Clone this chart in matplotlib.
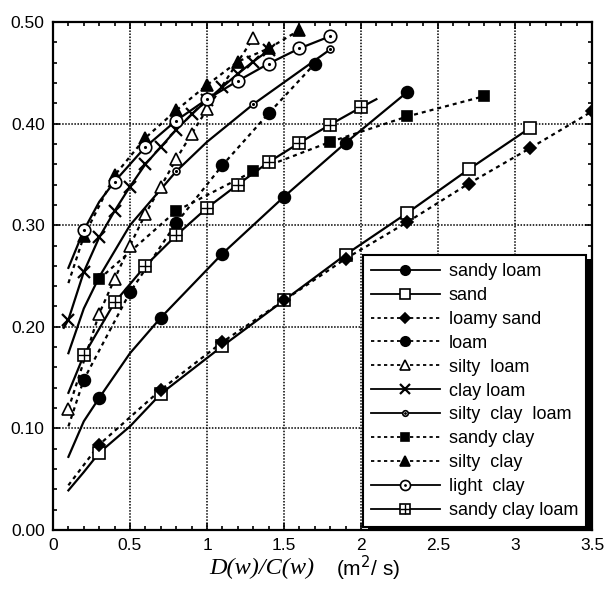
import numpy as np
import matplotlib
matplotlib.use("Agg")
import matplotlib.pyplot as plt
from matplotlib.lines import Line2D
from matplotlib.legend_handler import HandlerTuple
from matplotlib.patches import Rectangle
from matplotlib.ticker import MultipleLocator, FuncFormatter

plt.rcParams['font.family'] = ['Liberation Sans', 'DejaVu Sans']

# ---- data: line vertices, and x of the marked points ----
sandy_loam_x = [0.1, 0.2, 0.3, 0.5, 0.7, 1.1, 1.5, 1.9, 2.3]
sandy_loam_y = [0.072, 0.107, 0.130, 0.174, 0.209, 0.272, 0.328, 0.381, 0.431]
sandy_loam_mx = [0.3, 0.7, 1.1, 1.5, 1.9, 2.3]

sand_x = [0.1, 0.2, 0.3, 0.5, 0.7, 1.1, 1.5, 1.9, 2.3, 2.7, 3.1]
sand_y = [0.039, 0.057, 0.076, 0.102, 0.134, 0.181, 0.226, 0.271, 0.312, 0.355, 0.396]
sand_mx = [0.3, 0.7, 1.1, 1.5, 1.9, 2.3, 2.7, 3.1]

loamy_sand_x = [0.1, 0.3, 0.7, 1.1, 1.5, 1.9, 2.3, 2.7, 3.1, 3.5]
loamy_sand_y = [0.044, 0.084, 0.138, 0.185, 0.226, 0.267, 0.303, 0.341, 0.376, 0.412]
loamy_sand_mx = [0.3, 0.7, 1.1, 1.5, 1.9, 2.3, 2.7, 3.1, 3.5]

loam_x = [0.1, 0.2, 0.5, 0.8, 1.1, 1.4, 1.7]
loam_y = [0.102, 0.148, 0.234, 0.302, 0.359, 0.410, 0.459]
loam_mx = [0.2, 0.5, 0.8, 1.1, 1.4, 1.7]

silty_loam_x = [0.1, 0.3, 0.4, 0.5, 0.6, 0.7, 0.8, 0.9, 1.0, 1.3]
silty_loam_y = [0.119, 0.213, 0.247, 0.280, 0.311, 0.338, 0.365, 0.390, 0.414, 0.484]
silty_loam_mx = [0.1, 0.3, 0.4, 0.5, 0.6, 0.7, 0.8, 0.9, 1.0, 1.3]

clay_loam_x = [0.07, 0.1, 0.2, 0.3, 0.4, 0.5, 0.6, 0.7, 0.8, 0.9, 1.0, 1.1, 1.2, 1.3, 1.4]
clay_loam_y = [0.199, 0.207, 0.254, 0.288, 0.314, 0.338, 0.360, 0.377, 0.394, 0.409,
               0.423, 0.436, 0.449, 0.461, 0.472]
clay_loam_mx = [0.1, 0.2, 0.3, 0.4, 0.5, 0.6, 0.7, 0.8, 0.9, 1.0, 1.1, 1.2, 1.3, 1.4]

silty_clay_loam_x = [0.1, 0.2, 0.3, 0.5, 0.8, 1.0, 1.3, 1.8]
silty_clay_loam_y = [0.174, 0.218, 0.249, 0.300, 0.353, 0.382, 0.419, 0.473]
silty_clay_loam_mx = [0.3, 0.8, 1.3, 1.8]

sandy_clay_x = [0.3, 0.8, 1.3, 1.8, 2.3, 2.8]
sandy_clay_y = [0.247, 0.314, 0.353, 0.382, 0.407, 0.427]
sandy_clay_mx = [0.3, 0.8, 1.3, 1.8, 2.3, 2.8]

silty_clay_x = [0.1, 0.2, 0.4, 0.6, 0.8, 1.0, 1.2, 1.4, 1.6]
silty_clay_y = [0.243, 0.289, 0.349, 0.386, 0.413, 0.438, 0.461, 0.474, 0.492]
silty_clay_mx = [0.2, 0.4, 0.6, 0.8, 1.0, 1.2, 1.4, 1.6]

light_clay_x = [0.1, 0.2, 0.3, 0.4, 0.6, 0.8, 1.0, 1.2, 1.4, 1.6, 1.8]
light_clay_y = [0.258, 0.295, 0.323, 0.343, 0.377, 0.403, 0.424, 0.442, 0.459, 0.474, 0.486]
light_clay_mx = [0.2, 0.4, 0.6, 0.8, 1.0, 1.2, 1.4, 1.6, 1.8]

sandy_clay_loam_x = [0.1, 0.2, 0.4, 0.6, 0.8, 1.0, 1.2, 1.4, 1.6, 1.8, 2.0, 2.1]
sandy_clay_loam_y = [0.135, 0.172, 0.224, 0.260, 0.290, 0.317, 0.340, 0.362, 0.381, 0.399,
                     0.416, 0.424]
sandy_clay_loam_mx = [0.2, 0.4, 0.6, 0.8, 1.0, 1.2, 1.4, 1.6, 1.8, 2.0]

labels = ['sandy loam', 'sand', 'loamy sand', 'loam', 'silty  loam', 'clay loam',
          'silty  clay  loam', 'sandy clay', 'silty  clay', 'light  clay', 'sandy clay loam']

DOT = (0, (1.8, 1.8))

# (x, y, marked x, linestyle, marker, facecolor, markersize, overlay marker)
series = [
    (sandy_loam_x, sandy_loam_y, sandy_loam_mx, '-', 'o', 'k', 8.5, None),
    (sand_x, sand_y, sand_mx, '-', 's', 'w', 9, None),
    (loamy_sand_x, loamy_sand_y, loamy_sand_mx, DOT, 'D', 'k', 6.5, None),
    (loam_x, loam_y, loam_mx, DOT, 'o', 'k', 8.5, None),
    (silty_loam_x, silty_loam_y, silty_loam_mx, DOT, '^', 'w', 8.5, None),
    (clay_loam_x, clay_loam_y, clay_loam_mx, '-', 'x', 'k', 9, None),
    (silty_clay_loam_x, silty_clay_loam_y, silty_clay_loam_mx, '-', 'o', 'w', 5, '.'),
    (sandy_clay_x, sandy_clay_y, sandy_clay_mx, DOT, 's', 'k', 6.5, None),
    (silty_clay_x, silty_clay_y, silty_clay_mx, DOT, '^', 'k', 8.5, None),
    (light_clay_x, light_clay_y, light_clay_mx, '-', 'o', 'w', 9, '.'),
    (sandy_clay_loam_x, sandy_clay_loam_y, sandy_clay_loam_mx, '-', 's', 'w', 9, '+'),
]

fig = plt.figure(figsize=(6.06, 6.07), dpi=100)
ax = fig.add_axes([53 / 606, 1 - 530 / 607, 539 / 606, 508 / 607])

handles = []
for (x, y, mx, ls, mk, fc, ms, over), lab in zip(series, labels):
    x = np.array(x)
    y = np.array(y)
    sel = np.isin(np.round(x, 2), np.round(mx, 2))
    ax.plot(x, y, color='k', ls=ls, lw=1.6, zorder=2)
    mew = 1.6 if mk == 'x' else 1.2
    ax.plot(x[sel], y[sel], ls='none', marker=mk, ms=ms, mfc=fc, mec='k', mew=mew, zorder=3)
    h = [Line2D([], [], color='k', ls=ls, lw=1.3, marker=mk, ms=ms * 0.8,
                mfc=fc, mec='k', mew=mew)]
    if over is not None:
        oms = ms if over == '+' else 2.5
        ax.plot(x[sel], y[sel], ls='none', marker=over, ms=oms, color='k', mew=1.0, zorder=4)
        h.append(Line2D([], [], ls='none', marker=over, ms=oms * 0.8, color='k', mew=1.0))
    handles.append(tuple(h))

ax.set_xlim(0, 3.5)
ax.set_ylim(0, 0.5)
ax.xaxis.set_major_locator(MultipleLocator(0.5))
ax.xaxis.set_minor_locator(MultipleLocator(0.1))
ax.yaxis.set_major_locator(MultipleLocator(0.1))
ax.yaxis.set_minor_locator(MultipleLocator(0.02))
ax.xaxis.set_major_formatter(FuncFormatter(lambda v, p: '%g' % v))
ax.yaxis.set_major_formatter(FuncFormatter(lambda v, p: '%.2f' % v))
ax.tick_params(which='both', direction='in', top=True, right=True, width=1.2,
               labelsize=12.5, pad=6)
ax.tick_params(which='major', length=5)
ax.tick_params(which='minor', length=3)
ax.grid(True, which='major', color='k', ls=(0, (1, 1)), lw=1.1)
for s in ax.spines.values():
    s.set_linewidth(1.6)

leg = ax.legend(handles, labels, handler_map={tuple: HandlerTuple(ndivide=1, pad=0)},
                loc='lower right', bbox_to_anchor=(0.989, 0.006), borderaxespad=0,
                fontsize=13, numpoints=1, handlelength=3.8, handletextpad=0.5,
                labelspacing=0.38, borderpad=0.45, fancybox=False, framealpha=1,
                edgecolor='k')
leg.get_frame().set_linewidth(1.5)
leg.set_zorder(6)

fig.canvas.draw()
bb = leg.get_frame().get_window_extent()
ax.add_patch(Rectangle((bb.x0 + 5, bb.y0 - 4), bb.width, bb.height, transform=None,
                       facecolor='k', edgecolor='none', zorder=5.5, clip_on=False))

fig.text(262 / 606, 1 - 568 / 607, 'D(w)/C(w)', family='Liberation Serif',
         style='italic', fontsize=17.5, ha='center', va='center')
fig.text(368 / 606, 1 - 568 / 607, '(m$^2$/ s)', fontsize=15, ha='center', va='center')

fig.savefig('out.png', dpi=100)
